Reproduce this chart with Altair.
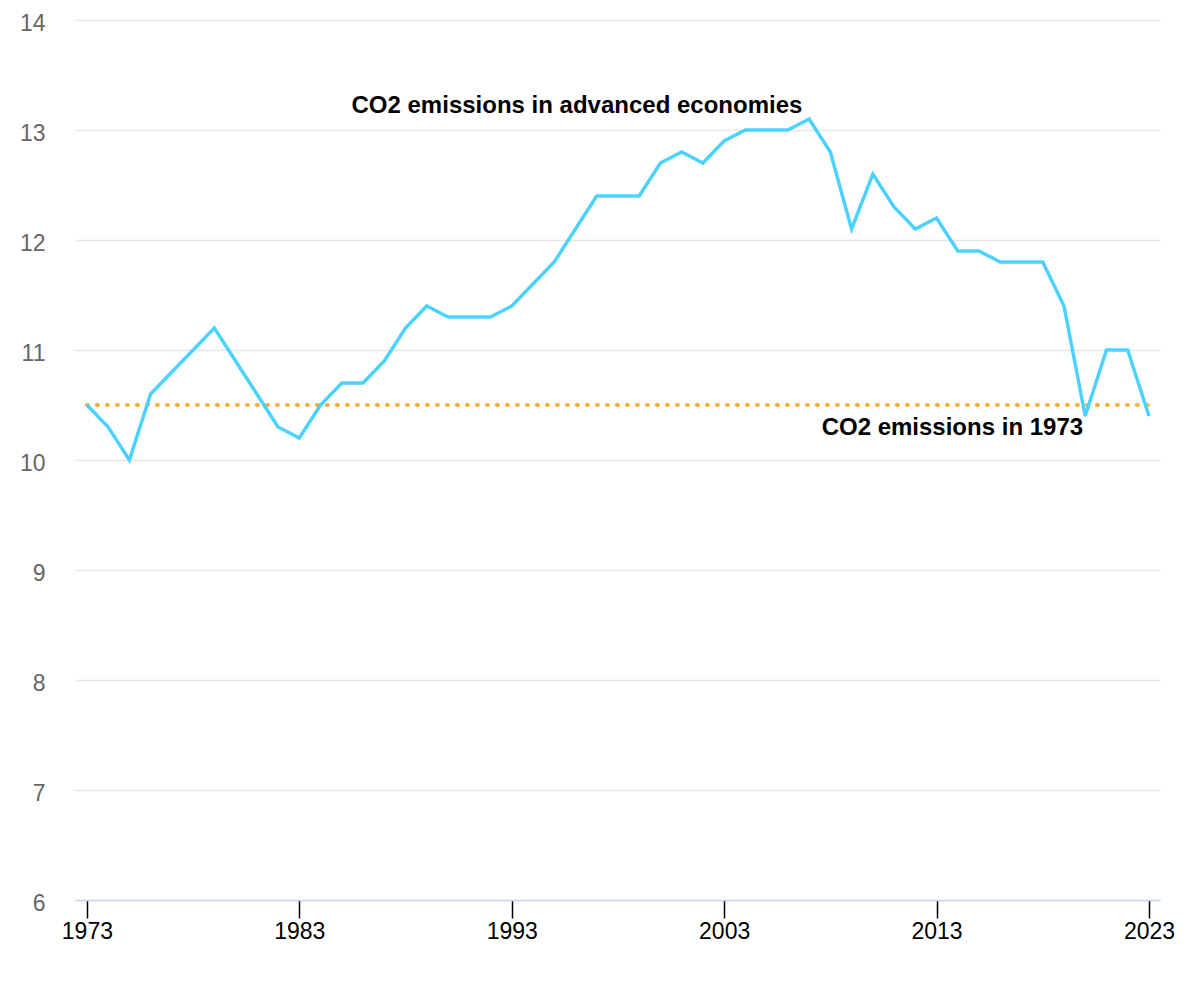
import altair as alt
import pandas as pd

years = list(range(1973, 2024))
emissions = [10.5, 10.3, 10.0, 10.6, 10.8, 11.0, 11.2, 10.9, 10.6, 10.3,
             10.2, 10.5, 10.7, 10.7, 10.9, 11.2, 11.4, 11.3, 11.3, 11.3,
             11.4, 11.6, 11.8, 12.1, 12.4, 12.4, 12.4, 12.7, 12.8, 12.7,
             12.9, 13.0, 13.0, 13.0, 13.1, 12.8, 12.1, 12.6, 12.3, 12.1,
             12.2, 11.9, 11.9, 11.8, 11.8, 11.8, 11.4, 10.4, 11.0, 11.0,
             10.4]
baseline_1973 = 10.5
x_ticks = [1973, 1983, 1993, 2003, 2013, 2023]
y_ticks = [6, 7, 8, 9, 10, 11, 12, 13, 14]
labels = ["CO2 emissions in advanced economies", "CO2 emissions in 1973"]

df = pd.DataFrame({"year": years, "value": emissions})
ref = pd.DataFrame({"year": [years[0], years[-1]], "value": [baseline_1973] * 2})
ann = pd.DataFrame({"year": [1996.07, 2019.9], "value": [13.22, 10.29],
                    "label": labels})

FONT = "Liberation Sans"

xscale = alt.Scale(domain=[1972.44, 2023.52], nice=False, zero=False)
yscale = alt.Scale(domain=[6, 14], nice=False, zero=False)

xaxis = alt.Axis(values=x_ticks, format="d", title=None, grid=False,
                 domainColor="#ccd6eb", domainWidth=1.5, tickColor="#000000",
                 tickSize=18, tickWidth=1.5, labelColor="#000000",
                 labelFontSize=23, labelFont=FONT, labelPadding=2,
                 labelFlush=False)
yaxis = alt.Axis(values=y_ticks, format="d", title=None, grid=True,
                 gridColor="#e6e6e6", gridWidth=1.5, domain=False, ticks=False,
                 labelColor="#666666", labelFontSize=23, labelFont=FONT,
                 labelPadding=30, labelOffset=3)

X = alt.X("year:Q", scale=xscale, axis=xaxis)
Y = alt.Y("value:Q", scale=yscale, axis=yaxis)

line = alt.Chart(df).mark_line(color="#4cd2ff", strokeWidth=3.5).encode(x=X, y=Y)

refline = alt.Chart(ref).mark_line(color="#fbb03b", strokeWidth=4,
                                   strokeDash=[1, 9], strokeCap="round").encode(x=X, y=Y)

text1 = alt.Chart(ann.iloc[[0]]).mark_text(font=FONT, fontSize=24, fontWeight="bold",
                                           color="#000000", align="center",
                                           baseline="middle").encode(
    x=X, y=Y, text="label:N")
text2 = alt.Chart(ann.iloc[[1]]).mark_text(font=FONT, fontSize=24, fontWeight="bold",
                                           color="#000000", align="right",
                                           baseline="middle").encode(
    x=X, y=Y, text="label:N")

chart = alt.layer(refline, line, text1, text2).properties(
    width=1085, height=880,
    background="#ffffff",
    autosize=alt.AutoSizeParams(type="none"),
    padding={"left": 67, "top": 12, "right": 30, "bottom": 70},
).configure_view(stroke=None)

chart.save("out.html", embed_options={"renderer": "svg", "actions": False})
